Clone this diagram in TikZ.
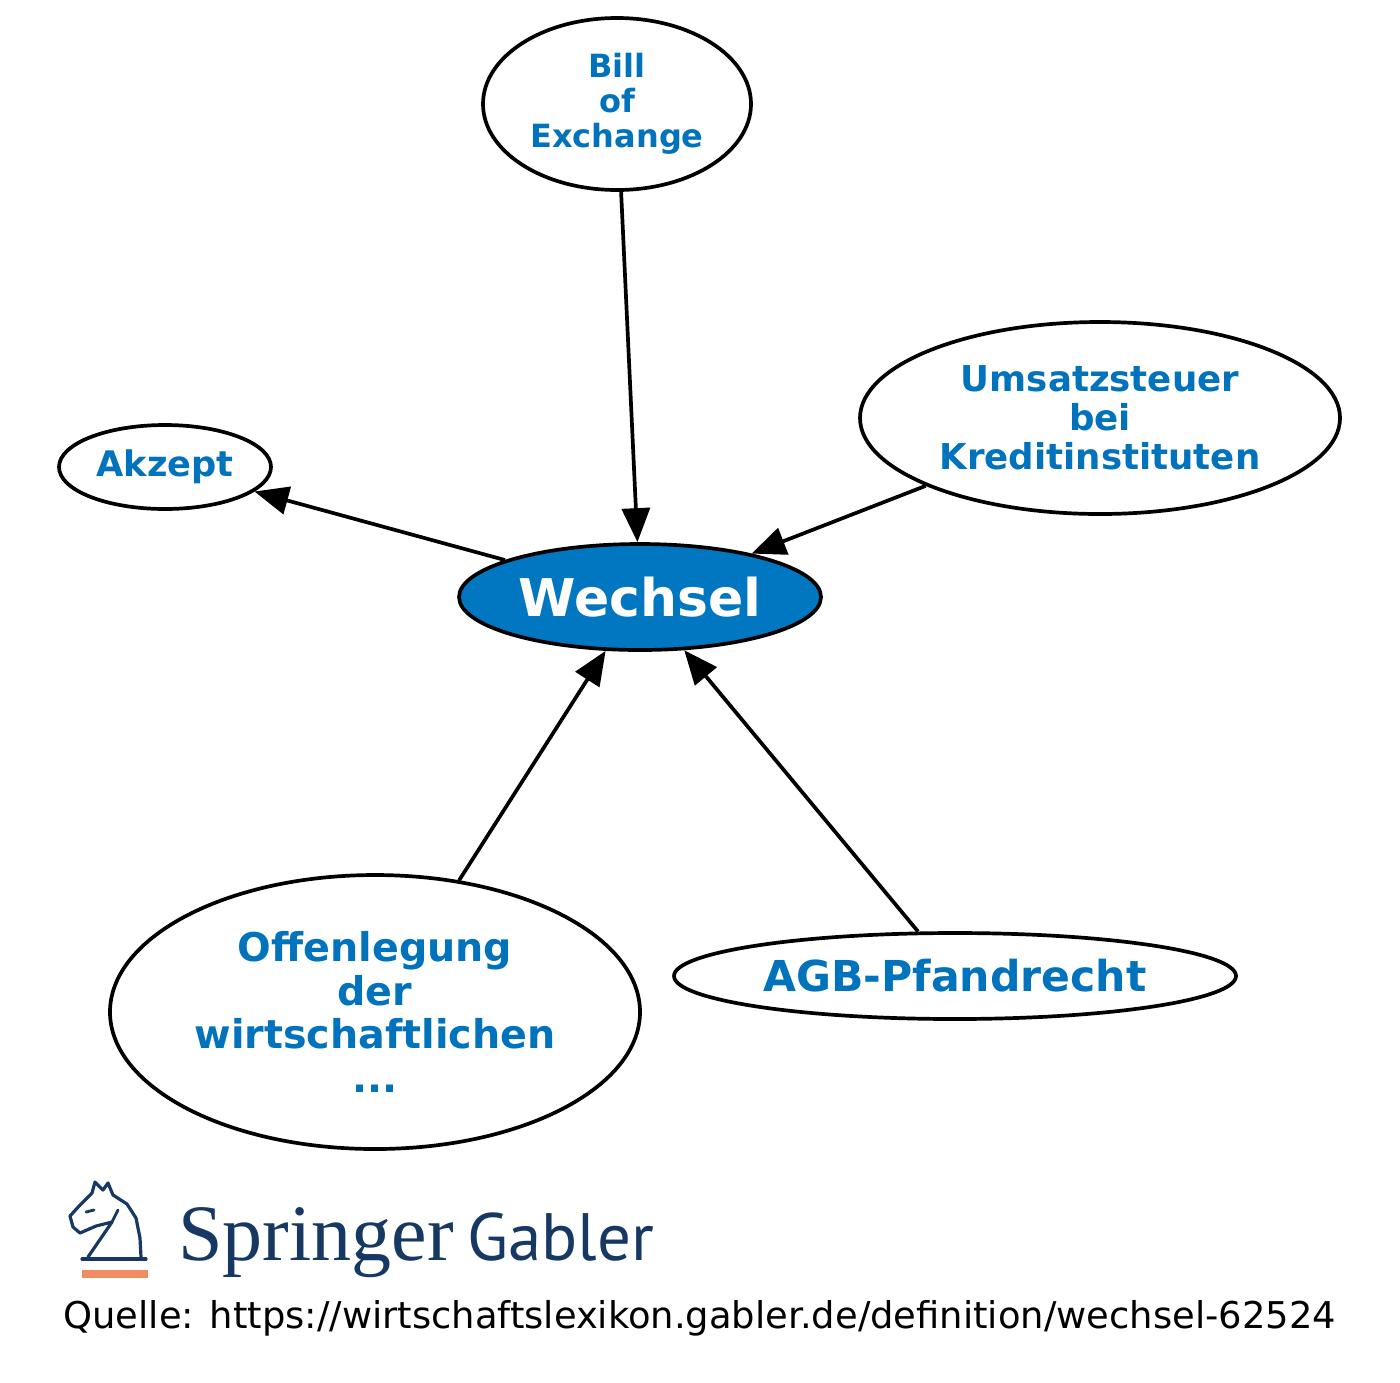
\documentclass[tikz,border=0pt]{standalone}
\usepackage{fontspec}
\setmainfont{DejaVu Sans}
\newfontfamily\springerfont{Liberation Serif}
\newfontfamily\gablerfont{PT Sans}
\usetikzlibrary{shapes.geometric,arrows.meta}
\definecolor{gblue}{RGB}{0,115,188}
\definecolor{gfill}{RGB}{0,119,192}
\definecolor{gnavy}{RGB}{22,56,98}
\definecolor{gorange}{RGB}{242,140,96}
\tikzset{
  term/.style={ellipse,draw=black,line width=1.85pt,fill=white,inner sep=0pt,
    text=gblue,align=center,font=\bfseries},
  edge/.style={line width=1.85pt,-{Triangle[length=17pt,width=14pt]}},
}
\begin{document}
\begin{tikzpicture}[x=0.5pt,y=-0.5pt]
    \useasboundingbox[fill=white] (0,0) rectangle (1400,1382);
    % terms
    \node[term,minimum width=134pt,minimum height=86pt,font=\bfseries\fontsize{16}{17.5}\selectfont] (bill) at (617,104) {Bill\\of\\Exchange};
    \node[term,minimum width=240pt,minimum height=96pt,font=\bfseries\fontsize{17.8}{19.5}\selectfont] (umsatz) at (1100,418) {Umsatzsteuer\\bei\\Kreditinstituten};
    \node[term,minimum width=106pt,minimum height=42pt,font=\bfseries\fontsize{17.6}{19.5}\selectfont] (akzept) at (165,467) {Akzept};
    \node[term,minimum width=181pt,minimum height=53pt,fill=gfill,text=white,font=\bfseries\fontsize{26}{30}\selectfont] (wechsel) at (640,597) {Wechsel};
    \node[term,minimum width=265pt,minimum height=137pt,font=\bfseries\fontsize{19.8}{21.8}\selectfont] (offen) at (375,1012) {Offenlegung\\der\\wirtschaftlichen\\...};
    \node[term,minimum width=281pt,minimum height=43pt,font=\bfseries\fontsize{21.3}{24}\selectfont] (agb) at (955,976) {AGB-Pfandrecht};
    % edges
    \draw[edge] (bill) -- (wechsel);
    \draw[edge] (umsatz) -- (wechsel);
    \draw[edge] (wechsel) -- (akzept);
    \draw[edge] (offen) -- (wechsel);
    \draw[edge] (agb) -- (wechsel);
    % logo
    \draw[gnavy,line width=1.6pt,line join=round,line cap=round]
      (88,1257) -- (112,1222) -- (96,1226) -- (80,1233) -- (73,1227) -- (70,1216)
      -- (80,1205) -- (92,1193) -- (95,1182) -- (103,1190) -- (108,1183) -- (113,1195)
      -- (127,1204) -- (136,1218) -- (140,1238) -- (141,1257);
    \draw[gnavy,line width=1.6pt,line cap=round] (82,1259) -- (146,1259);
    \draw[gnavy,line width=1.4pt,line cap=round] (112,1222) -- (118,1210);
    \draw[gnavy,line width=1.4pt,line cap=round] (86,1212) -- (94,1210);
    \fill[gorange] (82,1270) rectangle (148,1278);
    \node[anchor=base west,inner sep=0pt,text=gnavy,font=\springerfont\fontsize{40}{44}\selectfont] (springer) at (178,1260) {Springer};
    \node[anchor=base west,inner sep=0pt,text=gnavy,font=\gablerfont\fontsize{33.5}{38}\selectfont] (gabler) at (467,1260) {Gabler};
    \node[anchor=base west,inner sep=0pt,font=\fontsize{18.45}{21}\selectfont] (quelle) at (63,1328) {Quelle: https://wirtschaftslexikon.gabler.de/definition/wechsel-62524};
\end{tikzpicture}
\end{document}
